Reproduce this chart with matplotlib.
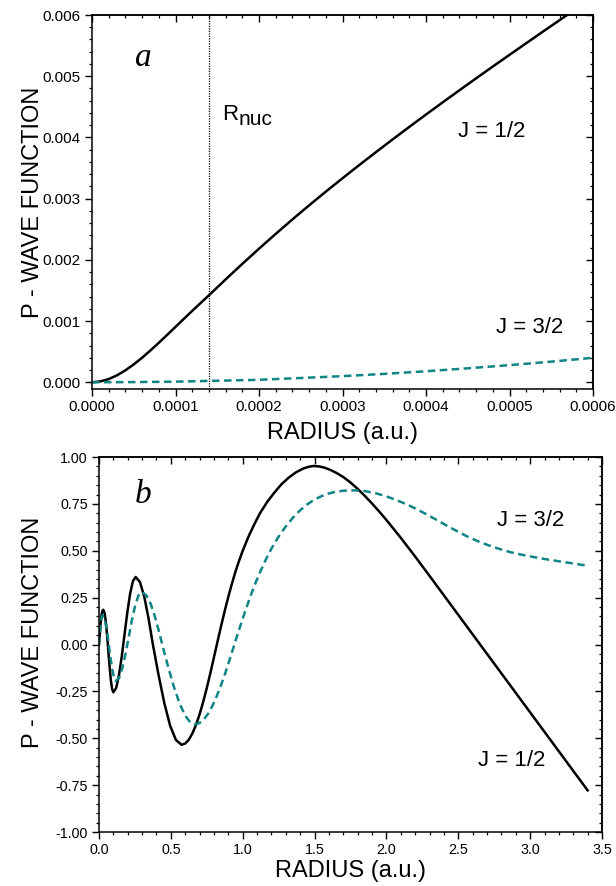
import matplotlib
matplotlib.use("Agg")
import matplotlib.pyplot as plt
from matplotlib.ticker import MultipleLocator, FormatStrFormatter

plt.rcParams['font.family'] = ['Liberation Sans', 'DejaVu Sans']

# ---------------- Panel a data (small radius) ----------------
a_r_half = [0, 0.00001, 0.00002, 0.00003, 0.00004, 0.00005, 0.00006, 0.00007,
            0.00008, 0.00009, 0.0001, 0.00011, 0.00012, 0.00013, 0.00014,
            0.00016, 0.00018, 0.0002, 0.00022, 0.00024, 0.00026, 0.00028,
            0.0003, 0.00032, 0.00034, 0.00036, 0.00038, 0.0004, 0.00042,
            0.00044, 0.00046, 0.00048, 0.0005, 0.00052, 0.00054, 0.00056,
            0.00058]
a_p_half = [0, 0.0000143, 0.000052, 0.000114, 0.000195, 0.000292, 0.000401,
            0.00052, 0.000645, 0.000774, 0.000905, 0.001036, 0.001166,
            0.001294, 0.00142, 0.00168, 0.001934, 0.002182, 0.002424,
            0.00266, 0.00289, 0.003114, 0.003333, 0.003548, 0.003759,
            0.003967, 0.004172, 0.004374, 0.004573, 0.00477, 0.004965,
            0.005158, 0.005349, 0.005539, 0.005728, 0.005916, 0.006103]
a_r_3half = [0, 0.00005, 0.0001, 0.00015, 0.0002, 0.00025, 0.0003, 0.00035,
             0.0004, 0.00045, 0.0005, 0.00055, 0.0006]
a_p_3half = [0, 0.000003, 0.00001, 0.000025, 0.00004, 0.00007, 0.0001,
             0.000137, 0.00018, 0.000228, 0.00028, 0.000337, 0.0004]
r_nuc = 0.00014

# ---------------- Panel b data (full range) ----------------
b_r_half = [0.000, 0.005, 0.010, 0.015, 0.020, 0.025, 0.030, 0.0388, 0.0475,
            0.0563, 0.065, 0.0738, 0.0825, 0.0913, 0.100, 0.1194, 0.1388,
            0.1581, 0.1775, 0.1969, 0.2163, 0.2356, 0.255, 0.285, 0.315,
            0.345, 0.375, 0.415, 0.455, 0.495, 0.535, 0.575, 0.600, 0.625,
            0.650, 0.675, 0.700, 0.725, 0.750, 0.775, 0.800, 0.820, 0.850,
            0.875, 0.900, 0.925, 0.950, 0.975, 1.000, 1.040, 1.080, 1.120,
            1.170, 1.220, 1.270, 1.320, 1.370, 1.420, 1.460, 1.490, 1.530,
            1.570, 1.610, 1.650, 1.700, 1.750, 1.800, 1.850, 1.900, 1.950,
            2.000, 2.100, 2.200, 2.300, 2.500, 2.700, 2.900, 3.100, 3.300,
            3.400]
b_p_half = [0.000, 0.050, 0.100, 0.140, 0.168, 0.182, 0.185, 0.168, 0.121,
            0.049, -0.035, -0.119, -0.191, -0.238, -0.255, -0.232, -0.165,
            -0.065, 0.0525, 0.170, 0.270, 0.337, 0.360, 0.333, 0.255,
            0.138, 0.000, -0.165, -0.314, -0.433, -0.509, -0.535, -0.528,
            -0.508, -0.474, -0.429, -0.372, -0.306, -0.232, -0.152, -0.068,
            0.000, 0.100, 0.180, 0.255, 0.325, 0.390, 0.447, 0.500, 0.575,
            0.640, 0.700, 0.760, 0.810, 0.855, 0.890, 0.918, 0.938, 0.948,
            0.952, 0.950, 0.943, 0.931, 0.916, 0.893, 0.864, 0.830, 0.792,
            0.752, 0.709, 0.664, 0.569, 0.469, 0.366, 0.158, -0.050,
            -0.258, -0.466, -0.674, -0.778]

b_r_3half = [0.000, 0.006, 0.012, 0.018, 0.025, 0.0366, 0.0483, 0.0599,
             0.0715, 0.0831, 0.0948, 0.1064, 0.118, 0.1404, 0.1628, 0.1851,
             0.2075, 0.2299, 0.2523, 0.2746, 0.297, 0.330, 0.360, 0.390,
             0.415, 0.440, 0.480, 0.520, 0.560, 0.600, 0.635, 0.668, 0.700,
             0.730, 0.760, 0.790, 0.820, 0.850, 0.880, 0.910, 0.942, 0.970,
             1.000, 1.030, 1.060, 1.090, 1.120, 1.160, 1.200, 1.250, 1.300,
             1.350, 1.400, 1.450, 1.500, 1.550, 1.600, 1.650, 1.700, 1.750,
             1.780, 1.850, 1.920, 2.000, 2.070, 2.140, 2.210, 2.280, 2.350,
             2.420, 2.490, 2.560, 2.630, 2.700, 2.780, 2.860, 2.940, 3.020,
             3.100, 3.200, 3.300, 3.400]
b_p_3half = [0.000, 0.060, 0.110, 0.142, 0.155, 0.142, 0.104, 0.047,
             -0.020, -0.087, -0.144, -0.182, -0.195, -0.177, -0.125, -0.048,
             0.0425, 0.133, 0.210, 0.262, 0.280, 0.262, 0.216, 0.146,
             0.076, 0.000, -0.116, -0.223, -0.313, -0.380, -0.415, -0.426,
             -0.419, -0.399, -0.368, -0.326, -0.274, -0.215, -0.149, -0.078,
             0.000, 0.068, 0.138, 0.205, 0.270, 0.330, 0.385, 0.452, 0.512,
             0.576, 0.630, 0.677, 0.716, 0.748, 0.773, 0.792, 0.806, 0.815,
             0.820, 0.822, 0.822, 0.818, 0.808, 0.790, 0.770, 0.748, 0.722,
             0.694, 0.664, 0.634, 0.605, 0.577, 0.553, 0.532, 0.511, 0.493,
             0.479, 0.467, 0.456, 0.444, 0.432, 0.420]

TEAL = '#0f8585'

fig = plt.figure(figsize=(6.16, 8.86), dpi=100)
W, H = 616.0, 886.0
ax1 = fig.add_axes([92 / W, 1 - 389 / H, (593 - 92) / W, (389 - 15) / H])
ax2 = fig.add_axes([99 / W, 1 - 832 / H, (602 - 99) / W, (832 - 457) / H])


def style(ax, xmaj, xmin, ymaj, ymin, xfmt, yfmt, fs):
    for s in ax.spines.values():
        s.set_linewidth(1.1)
    ax.xaxis.set_major_locator(MultipleLocator(xmaj))
    ax.xaxis.set_minor_locator(MultipleLocator(xmin))
    ax.yaxis.set_major_locator(MultipleLocator(ymaj))
    ax.yaxis.set_minor_locator(MultipleLocator(ymin))
    ax.xaxis.set_major_formatter(FormatStrFormatter(xfmt))
    ax.yaxis.set_major_formatter(FormatStrFormatter(yfmt))
    ax.tick_params(which='major', direction='out', length=5, width=1.0,
                   labelsize=fs, pad=3, top=False, right=False)
    ax.tick_params(which='minor', direction='out', length=2.5, width=0.9,
                   top=False, right=False)
    # mirrored inward ticks on top and right
    sx = ax.secondary_xaxis('top')
    sx.xaxis.set_major_locator(MultipleLocator(xmaj))
    sx.xaxis.set_minor_locator(MultipleLocator(xmin))
    sx.tick_params(which='major', direction='in', length=5, width=1.0, labeltop=False)
    sx.tick_params(which='minor', direction='in', length=2.5, width=0.9)
    sx.spines['top'].set_linewidth(1.1)
    sy = ax.secondary_yaxis('right')
    sy.yaxis.set_major_locator(MultipleLocator(ymaj))
    sy.yaxis.set_minor_locator(MultipleLocator(ymin))
    sy.tick_params(which='major', direction='in', length=5, width=1.0, labelright=False)
    sy.tick_params(which='minor', direction='in', length=2.5, width=0.9)
    sy.spines['right'].set_linewidth(1.1)


# ---------------- Panel a ----------------
ax1.plot(a_r_half, a_p_half, color='black', lw=1.8)
ax1.plot(a_r_3half, a_p_3half, color=TEAL, lw=1.8, dashes=(3.0, 1.8))
ax1.axvline(r_nuc, color='black', lw=0.9, ls=(0, (1, 1)))
ax1.set_xlim(0, 0.0006)
ax1.set_ylim(-0.00011, 0.006)
style(ax1, 0.0001, 0.00002, 0.001, 0.0002, '%.4f', '%.3f', 11)
ax1.set_xlabel('RADIUS (a.u.)', fontsize=17)
ax1.set_ylabel('P - WAVE FUNCTION', fontsize=17)
ax1.xaxis.set_label_coords(0.5, -0.118)
ax1.yaxis.set_label_coords(-0.118, 0.5)
ax1.xaxis.label.set_va('center')
ax1.yaxis.label.set_va('center')
ax1.text(0.0000616, 0.0053, 'a', fontsize=24, style='italic',
         family='Liberation Serif', ha='center', va='center')
ax1.text(0.000156, 0.00438, 'R', fontsize=16, ha='left', va='center')
ax1.annotate('nuc', xy=(0.000156, 0.00438), xytext=(12, -4),
             textcoords='offset points', fontsize=15, ha='left', va='center')
ax1.text(0.000479, 0.00410, 'J = 1/2', fontsize=16, ha='center', va='center')
ax1.text(0.000524, 0.00090, 'J = 3/2', fontsize=16, ha='center', va='center')

# ---------------- Panel b ----------------
ax2.plot(b_r_half, b_p_half, color='black', lw=1.8)
ax2.plot(b_r_3half, b_p_3half, color=TEAL, lw=1.8, dashes=(3.0, 1.8))
ax2.set_xlim(0, 3.5)
ax2.set_ylim(-1.0, 1.0)
style(ax2, 0.5, 0.1, 0.25, 0.05, '%.1f', '%.2f', 10.3)
ax2.set_xlabel('RADIUS (a.u.)', fontsize=17)
ax2.set_ylabel('P - WAVE FUNCTION', fontsize=17)
ax2.xaxis.set_label_coords(0.5, -0.104)
ax2.yaxis.set_label_coords(-0.131, 0.532)
ax2.xaxis.label.set_va('center')
ax2.yaxis.label.set_va('center')
ax2.text(0.308, 0.797, 'b', fontsize=24, style='italic',
         family='Liberation Serif', ha='center', va='center')
ax2.text(3.0, 0.659, 'J = 3/2', fontsize=16, ha='center', va='center')
ax2.text(2.875, -0.616, 'J = 1/2', fontsize=16, ha='center', va='center')

fig.savefig('out.png', dpi=100)
